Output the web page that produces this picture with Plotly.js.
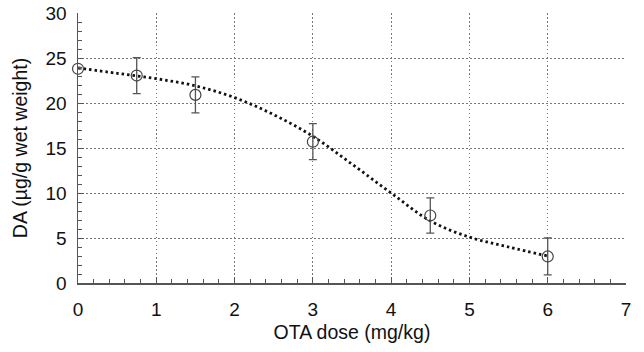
<!DOCTYPE html>
<html><head><meta charset="utf-8">
<script src="https://cdn.plot.ly/plotly-3.0.1.min.js"></script>
<style>html,body{margin:0;padding:0;background:#fff}#c{width:644px;height:352px}</style>
</head><body><div id="c"></div>
<script>
const doseX = [0, 0.75, 1.5, 3, 4.5, 6];
const daMean = [23.8, 23.05, 20.9, 15.7, 7.5, 2.95];
const daErr = [0, 2.0, 2.0, 2.0, 1.95, 2.05];
const fitX = [0, 0.5, 1, 1.5, 2, 2.5, 3, 3.5, 4, 4.5, 5, 5.5, 6];
const fitY = [23.9, 23.3, 22.7, 21.9, 20.6, 18.7, 16.3, 13.2, 10.0, 6.9, 5.1, 4.0, 3.0];
const xTicks = [0, 1, 2, 3, 4, 5, 6, 7];
const yTicks = [0, 5, 10, 15, 20, 25, 30];

const fam = 'Liberation Sans, Arial, sans-serif';
const data = [
  {x: fitX, y: fitY, mode: 'lines', line: {shape: 'spline', color: '#111', width: 2.8, dash: '2.5px,3px'}, hoverinfo: 'skip'},
  {x: doseX, y: daMean, mode: 'markers', cliponaxis: false,
   marker: {symbol: 'circle-open', size: 11, color: '#444', line: {width: 1.2, color: '#444'}},
   error_y: {type: 'data', array: daErr, visible: true, color: '#555', thickness: 1.3, width: 4}}
];
const axisCommon = {
  showline: true, linecolor: '#555', linewidth: 1.5, mirror: false,
  showgrid: true, gridcolor: '#777', griddash: '1.5px,2.5px', gridwidth: 1,
  zeroline: false, ticks: 'inside', ticklen: 6, tickcolor: '#555',
  tickfont: {family: fam, size: 19, color: '#111'}
};
const layout = {
  width: 644, height: 352, margin: {l: 78, r: 18, t: 13, b: 69},
  paper_bgcolor: '#fff', plot_bgcolor: '#fff', showlegend: false, font: {family: fam, color: '#111'},
  xaxis: Object.assign({}, axisCommon, {
    range: [0, 7], tickvals: xTicks, ticktext: xTicks.map(String), ticklabelstandoff: 9,
    minor: {ticks: 'inside', dtick: 0.2, tick0: 0, ticklen: 4, tickcolor: '#555', showgrid: false},
    title: {text: 'OTA dose (mg/kg)', font: {family: fam, size: 19.5, color: '#111'}, standoff: 6}
  }),
  yaxis: Object.assign({}, axisCommon, {
    range: [0, 30], tickvals: yTicks, ticktext: yTicks.map(String), ticklabelstandoff: 6,
    minor: {ticks: 'inside', dtick: 1, tick0: 0, ticklen: 4, tickcolor: '#555', showgrid: false},
    title: {text: 'DA (µg/g wet weight)', font: {family: fam, size: 19.5, color: '#111'}, standoff: 12}
  })
};
Plotly.newPlot('c', data, layout, {staticPlot: true});
</script>
</body></html>
